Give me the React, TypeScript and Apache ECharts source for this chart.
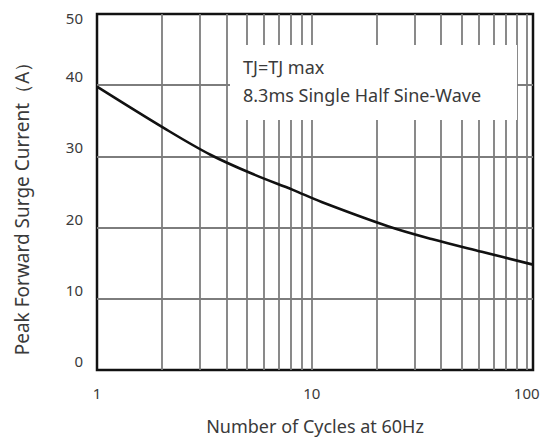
import React, { useEffect, useRef } from 'react';
import * as echarts from 'echarts';

const cycles = [1, 2.07, 3.39, 5.43, 8.16, 11.1, 22.6, 36.1, 61.8, 107];
const surgeCurrent = [39.8, 33.9, 30.2, 27.4, 25.3, 23.6, 20.2, 18.4, 16.6, 14.8];
const gridCycles = [2, 3, 4, 5, 6, 7, 8, 9, 10, 20, 30, 40, 50, 60, 70, 80, 90, 100];
const xTickLabels = [1, 10, 100];
const noteLines = ['TJ=TJ max', '8.3ms Single Half Sine-Wave'];
const xTitle = 'Number of Cycles at 60Hz';
const yTitle = 'Peak Forward Surge Current（A）';

const FONT = '"Noto Sans", "Open Sans", sans-serif';
const TEXT = '#3a3a3a';
const GRID = '#7d7d7d';

export default function App() {
  const ref = useRef<HTMLDivElement>(null);
  useEffect(() => {
    if (!ref.current) return;
    const chart = echarts.init(ref.current, undefined, { renderer: 'svg' });
    chart.setOption({
      animation: false,
      backgroundColor: '#ffffff',
      textStyle: { fontFamily: FONT },
      grid: {
        left: 97,
        right: 15,
        top: 14,
        bottom: 69,
        outerBoundsMode: 'none',
        containLabel: false,
        show: true,
        borderColor: '#111',
        borderWidth: 2.5,
        backgroundColor: 'transparent',
      },
      xAxis: {
        type: 'log',
        logBase: 10,
        min: 1,
        max: 107,
        name: xTitle,
        nameLocation: 'middle',
        nameGap: 47,
        nameTextStyle: { fontSize: 18, color: TEXT, fontFamily: FONT },
        axisLine: { show: false },
        axisTick: { show: false },
        splitLine: { show: false },
        axisLabel: {
          margin: 15,
          fontSize: 15,
          color: TEXT,
          fontFamily: FONT,
          formatter: (v: number) => {
            const r = Math.round(v);
            return xTickLabels.some((t) => Math.abs(t - v) < 1e-6 * t) ? String(r) : '';
          },
        },
      },
      yAxis: {
        type: 'value',
        min: 0,
        max: 50,
        interval: 10,
        name: yTitle,
        nameLocation: 'middle',
        nameGap: 66,
        nameTextStyle: { fontSize: 19, color: TEXT, fontFamily: FONT, padding: [0, 24, 0, 0] },
        axisLine: { show: false },
        axisTick: { show: false },
        splitLine: {
          show: true,
          showMinLine: false,
          showMaxLine: false,
          lineStyle: { color: GRID, width: 1.8 },
        },
        axisLabel: {
          margin: 14,
          fontSize: 15,
          color: TEXT,
          fontFamily: FONT,
          formatter: (v: number) => (v === 50 ? '{t|' + v + '}' : '{n|' + v + '}'),
          rich: {
            t: { fontSize: 15, color: TEXT, fontFamily: FONT, padding: [8, 0, 0, 0] },
            n: { fontSize: 15, color: TEXT, fontFamily: FONT, padding: [0, 0, 18, 0] },
          },
        },
      },
      series: [
        {
          type: 'line',
          data: [],
          silent: true,
          z: 1,
          markLine: {
            silent: true,
            symbol: 'none',
            label: { show: false },
            lineStyle: { color: GRID, width: 1.8, type: 'solid' },
            data: gridCycles.map((c) => ({ xAxis: c })),
          },
        },
        {
          type: 'line',
          data: cycles.map((c, i) => [c, surgeCurrent[i]]),
          smooth: 0.35,
          showSymbol: false,
          symbol: 'none',
          z: 5,
          lineStyle: { color: '#111', width: 2.6 },
        },
      ],
      graphic: [
        {
          type: 'rect',
          z: 100,
          shape: { x: 230, y: 45, width: 287, height: 75 },
          style: { fill: '#ffffff' },
          silent: true,
        },
        {
          type: 'text',
          z: 101,
          x: 243,
          y: 67,
          style: { text: noteLines[0], fontSize: 18, fill: TEXT, fontFamily: FONT, verticalAlign: 'middle' },
        },
        {
          type: 'text',
          z: 101,
          x: 243,
          y: 95,
          style: { text: noteLines[1], fontSize: 18, fill: TEXT, fontFamily: FONT, verticalAlign: 'middle' },
        },
      ],
    });
    return () => chart.dispose();
  }, []);
  return <div ref={ref} style={{ width: 548, height: 439, position: 'absolute', left: 0, top: 0 }} />;
}
